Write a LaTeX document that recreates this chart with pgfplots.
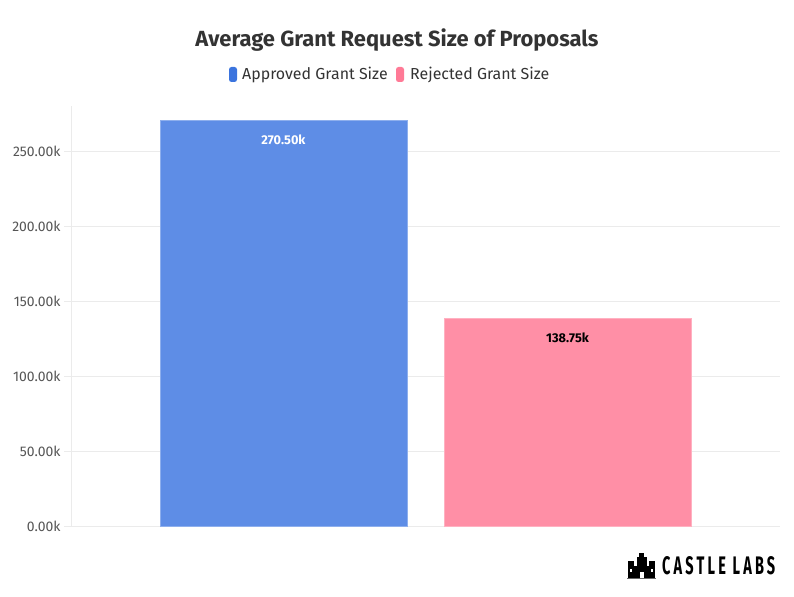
\documentclass[border=0pt]{standalone}
\usepackage{pgfplots}
\pgfplotsset{compat=1.18}
\usepackage{fontspec}
\setmainfont{Fira Sans}
\newfontfamily\logofont[LetterSpace=22]{Fira Sans}
\definecolor{barblue}{HTML}{5E8DE6}
\definecolor{legblue}{HTML}{3B74DE}
\definecolor{barpink}{HTML}{FF8FA6}
\definecolor{legpink}{HTML}{FF7A96}
\definecolor{gridc}{HTML}{EBEBEB}
\definecolor{tickc}{HTML}{555555}
\definecolor{titlec}{HTML}{333333}
\begin{document}
\begin{tikzpicture}[x=1bp,y=1bp]
\useasboundingbox (-71bp,-71bp) rectangle (723bp,526bp);
\begin{axis}[
  at={(0,0)}, anchor=south west,
  scale only axis, width=709bp, height=420bp,
  xmin=-0.748, xmax=1.748,
  ymin=0, ymax=280,
  ytick={0,50,100,150,200,250},
  yticklabel={\pgfmathprintnumber[fixed,fixed zerofill,precision=2]{\tick}k},
  /pgf/number format/assume math mode=true,
  yticklabel style={font=\fontsize{14}{16}\selectfont, text=tickc},
  xtick=\empty,
  ymajorgrids, grid style={gridc, line width=0.8bp},
  major tick length=7bp,
  tick style={gridc, line width=0.8bp},
  tick align=outside,
  axis line style={gridc, line width=0.8bp},
  axis x line*=bottom, axis y line*=left,
  ybar, bar width=0.87, bar shift=0pt,
  clip=false,
]
\addplot[fill=barblue, draw=barblue!70!white, line width=0.6bp] coordinates {(0,270.5)};
\addplot[fill=barpink, draw=barpink!70!white, line width=0.6bp] coordinates {(1,138.75)};
\node[font=\bfseries\fontsize{12.8}{15}\selectfont, text=white, anchor=north] at (axis cs:0,270.5) [yshift=-11bp] {270.50k};
\node[font=\bfseries\fontsize{12.8}{15}\selectfont, text=black, anchor=north] at (axis cs:1,138.75) [yshift=-11bp] {138.75k};
\end{axis}
% title
\node[font=\bfseries\fontsize{22}{26}\selectfont, text=titlec] at (326bp,486bp) {Average Grant Request Size of Proposals};
% legend
\fill[legblue, rounded corners=2.5bp] (158bp,444bp) rectangle (166bp,459bp);
\node[anchor=west, font=\fontsize{16}{19}\selectfont, text=titlec, inner sep=0pt] at (171bp,451bp) {Approved Grant Size};
\fill[legpink, rounded corners=2.5bp] (325bp,444bp) rectangle (333bp,459bp);
\node[anchor=west, font=\fontsize{16}{19}\selectfont, text=titlec, inner sep=0pt] at (339bp,451bp) {Rejected Grant Size};
% logo
\begin{scope}[shift={(557bp,-52bp)}]
\fill[black] (0,0) rectangle (27bp,12bp);
\fill[black] (0,12bp) rectangle (6bp,17bp);
\fill[black] (21bp,12bp) rectangle (27bp,17bp);
\fill[black] (8.5bp,12bp) rectangle (18.5bp,21bp);
\fill[black] (11bp,21bp) rectangle (16bp,25bp);
\fill[white] (11.5bp,0) rectangle (15.5bp,6bp);
\fill[white] (2bp,6bp) rectangle (4bp,9bp);
\fill[white] (23bp,6bp) rectangle (25bp,9bp);
\draw[black!60, line width=0.5bp] (-1bp,-0.5bp) -- (28bp,-0.5bp);
\end{scope}
\node[anchor=west, inner sep=0pt] at (591bp,-40bp) {\resizebox{113bp}{18bp}{\logofont\bfseries CASTLE LABS}};
\end{tikzpicture}
\end{document}
